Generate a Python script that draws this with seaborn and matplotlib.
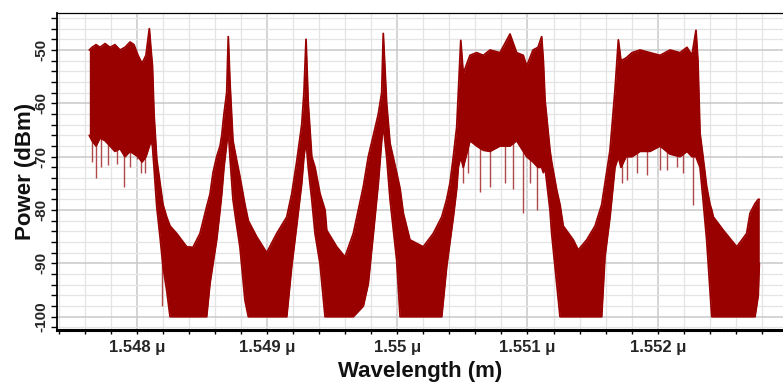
import numpy as np
import pandas as pd
import matplotlib
matplotlib.use("Agg")
import matplotlib.pyplot as plt
from matplotlib.ticker import MultipleLocator, FuncFormatter
import seaborn as sns

# ---- data (wavelength in nm, power in dBm) ----
wavelength_nm = [
    1547.636, 1547.657, 1547.688, 1547.718, 1547.757, 1547.795, 1547.833, 1547.872,
    1547.910, 1547.949, 1547.979, 1548.010, 1548.041, 1548.071, 1548.097, 1548.110,
    1548.121, 1548.133, 1548.154, 1548.179, 1548.202, 1548.230, 1548.256, 1548.307,
    1548.384, 1548.432, 1548.486, 1548.537, 1548.563, 1548.586, 1548.614, 1548.640,
    1548.653, 1548.670, 1548.691, 1548.703, 1548.716, 1548.739, 1548.762, 1548.793,
    1548.831, 1548.857, 1548.921, 1548.998, 1549.075, 1549.152, 1549.190, 1549.228,
    1549.267, 1549.284, 1549.300, 1549.317, 1549.344, 1549.369, 1549.407, 1549.446,
    1549.459, 1549.536, 1549.599, 1549.663, 1549.740, 1549.778, 1549.817, 1549.855,
    1549.881, 1549.893, 1549.919, 1549.945, 1549.996, 1550.022, 1550.047, 1550.098,
    1550.200, 1550.277, 1550.342, 1550.380, 1550.405, 1550.431, 1550.457, 1550.469,
    1550.488, 1550.507, 1550.559, 1550.610, 1550.661, 1550.713, 1550.789, 1550.866,
    1550.917, 1550.968, 1550.994, 1551.043, 1551.081, 1551.109, 1551.122, 1551.135,
    1551.173, 1551.186, 1551.225, 1551.250, 1551.275, 1551.352, 1551.390, 1551.455,
    1551.519, 1551.570, 1551.595, 1551.634, 1551.672, 1551.698, 1551.718, 1551.757,
    1551.803, 1551.864, 1551.941, 1552.018, 1552.094, 1552.171, 1552.225, 1552.263,
    1552.294, 1552.309, 1552.325, 1552.348, 1552.376, 1552.402, 1552.415, 1552.427,
    1552.504, 1552.607, 1552.683, 1552.709, 1552.747, 1552.772, 1552.780,
]
upper_dbm = [
    -50.0, -49.5, -49.0, -49.5, -48.8, -49.5, -49.0, -50.0,
    -49.5, -48.5, -49.0, -51.0, -52.5, -51.0, -46.0, -50.0,
    -53.0, -62.0, -70.5, -75.0, -79.0, -81.3, -83.0, -84.4,
    -86.9, -87.0, -84.4, -79.4, -77.0, -73.0, -70.0, -68.0,
    -66.0, -62.0, -58.0, -47.5, -56.0, -67.0, -70.0, -73.8,
    -79.0, -82.0, -85.0, -88.0, -84.4, -81.3, -77.0, -71.0,
    -64.0, -58.0, -48.0, -60.0, -70.0, -72.0, -76.9, -80.0,
    -83.8, -86.9, -88.8, -84.4, -75.6, -70.0, -66.0, -62.0,
    -58.0, -46.9, -60.0, -67.5, -73.0, -76.0, -80.6, -85.6,
    -86.9, -84.4, -81.3, -78.0, -75.0, -70.0, -64.4, -58.0,
    -48.2, -54.4, -51.0, -50.5, -51.0, -50.0, -50.5, -47.0,
    -50.5, -51.0, -53.0, -50.0, -49.5, -47.5, -52.0, -59.4,
    -68.8, -71.0, -76.3, -79.0, -83.0, -85.6, -87.5, -85.6,
    -83.0, -79.0, -75.0, -68.8, -57.5, -48.1, -52.0, -51.5,
    -50.5, -50.0, -50.5, -51.0, -50.0, -50.5, -49.5, -51.0,
    -46.3, -52.0, -65.6, -70.0, -75.6, -79.0, -80.0, -81.3,
    -83.8, -86.9, -84.4, -80.6, -78.8, -78.0, -78.0,
]
lower_dbm = [
    -66.0, -67.0, -68.0, -66.5, -67.0, -68.0, -69.0, -68.5,
    -70.0, -69.0, -69.5, -70.0, -71.0, -70.0, -68.0, -67.0,
    -68.0, -72.0, -79.4, -85.0, -90.6, -95.0, -100.0, -100.0,
    -100.0, -100.0, -100.0, -100.0, -93.7, -90.0, -85.6, -80.0,
    -77.0, -72.0, -67.5, -65.0, -70.0, -78.0, -82.0, -87.0,
    -96.9, -100.0, -100.0, -100.0, -100.0, -100.0, -90.6, -83.0,
    -75.0, -70.0, -67.0, -72.0, -78.0, -84.4, -90.0, -100.0,
    -100.0, -100.0, -100.0, -100.0, -98.0, -93.8, -84.4, -75.0,
    -67.0, -64.0, -70.0, -78.0, -89.4, -100.0, -100.0, -100.0,
    -100.0, -100.0, -100.0, -90.6, -86.0, -81.3, -76.0, -72.0,
    -70.0, -72.0, -67.0, -68.0, -68.8, -69.0, -68.0, -68.0,
    -67.0, -69.0, -70.0, -71.0, -72.0, -72.0, -73.0, -72.0,
    -80.0, -84.4, -93.8, -100.0, -100.0, -100.0, -100.0, -100.0,
    -100.0, -100.0, -88.8, -81.3, -72.0, -70.0, -72.0, -70.0,
    -70.0, -69.0, -69.0, -68.0, -69.5, -70.0, -69.0, -70.0,
    -70.0, -71.0, -72.0, -78.0, -85.6, -95.0, -100.0, -100.0,
    -100.0, -100.0, -100.0, -100.0, -100.0, -96.0, -90.0,
]

# isolated downward spikes (position, tip value, base value)
spike_nm = [
    1547.657, 1547.685, 1547.726, 1547.780, 1547.846, 1547.902, 1547.949, 1548.000,
    1548.033, 1548.064, 1548.197,
    1550.507, 1550.546, 1550.636, 1550.713, 1550.828, 1550.889, 1550.968, 1551.020,
    1551.073,
    1551.726, 1551.762, 1551.839, 1551.916, 1552.018, 1552.069, 1552.146, 1552.197,
    1552.269,
]
spike_tip_dbm = [
    -71.0, -74.0, -72.0, -71.5, -71.3, -75.6, -72.0, -70.5,
    -73.0, -73.0, -98.0,
    -75.0, -73.0, -76.6, -75.6, -75.0, -76.0, -80.6, -75.0,
    -80.0,
    -75.0, -74.4, -73.0, -73.5, -72.5, -72.5, -72.0, -73.0,
    -79.0,
]
spike_base_dbm = [
    -66.0, -67.0, -66.0, -67.0, -68.0, -68.0, -68.0, -69.0,
    -70.0, -69.0, -88.0,
    -70.0, -67.0, -68.0, -68.0, -68.0, -67.0, -68.0, -70.0,
    -71.0,
    -71.0, -70.0, -69.0, -69.0, -68.0, -69.0, -69.0, -69.0,
    -70.0,
]

x_major_um = [1.548, 1.549, 1.550, 1.551, 1.552]
y_major = [-100, -90, -80, -70, -60, -50]

RED = "#990000"
SPIKE = "#b04848"

sns.set_theme(style="white")
plt.rcParams["font.family"] = ["Liberation Sans", "DejaVu Sans"]
plt.rcParams["font.weight"] = "bold"

fig = plt.figure(figsize=(7.83, 3.86), dpi=100)
ax = fig.add_axes([57 / 783, 1 - 330 / 386, 1 - 57 / 783, (330 - 13) / 386])

df = pd.DataFrame({
    "wl": np.array(wavelength_nm) / 1000.0,
    "up": upper_dbm,
    "lo": lower_dbm,
})
sp = pd.DataFrame({
    "wl": np.array(spike_nm) / 1000.0,
    "tip": spike_tip_dbm,
    "base": spike_base_dbm,
})

ax.fill_between(df["wl"], df["lo"], df["up"], color=RED, lw=0, zorder=3)
sns.lineplot(data=df, x="wl", y="up", ax=ax, color=RED, lw=1.3, zorder=4, estimator=None, sort=False)
sns.lineplot(data=df, x="wl", y="lo", ax=ax, color=RED, lw=1.3, zorder=4, estimator=None, sort=False)
ax.vlines(sp["wl"], sp["tip"], sp["base"], color=SPIKE, lw=1.0, zorder=2.9)

ax.set_xlim(1.547388, 1.552962)
ax.set_ylim(-102.5, -43.06)

ax.xaxis.set_major_locator(MultipleLocator(0.001))
ax.xaxis.set_minor_locator(MultipleLocator(0.0002))
ax.yaxis.set_major_locator(MultipleLocator(10))
ax.yaxis.set_minor_locator(MultipleLocator(2))
ax.set_xticks(x_major_um)
ax.set_yticks(y_major)
ax.xaxis.set_major_formatter(FuncFormatter(lambda v, p: f"{v:g} \u03bc"))
ax.yaxis.set_major_formatter(FuncFormatter(lambda v, p: f"{int(round(v))}"))

ax.grid(which="minor", color="#e4e4e4", lw=0.9, zorder=0)
ax.grid(which="major", color="#c9c9c9", lw=1.1, zorder=0)
ax.set_axisbelow(True)

ax.tick_params(axis="x", which="both", bottom=True, direction="out", length=3,
               width=1.0, color="black", labelsize=12, pad=4)
ax.tick_params(axis="y", which="both", left=True, direction="out", length=4,
               width=1.0, color="black", labelsize=11, pad=2, labelrotation=90)
for lab in ax.get_yticklabels():
    lab.set_va("center")

ax.spines["right"].set_visible(False)
ax.spines["left"].set_visible(True)
ax.spines["left"].set_color("black")
ax.spines["left"].set_linewidth(1.3)
ax.spines["bottom"].set_visible(True)
ax.spines["bottom"].set_color("black")
ax.spines["bottom"].set_linewidth(2.2)
ax.spines["bottom"].set_linestyle((0, (0.6, 0.6)))
ax.spines["top"].set_visible(True)
ax.spines["top"].set_color("black")
ax.spines["top"].set_linewidth(0.9)
ax.spines["top"].set_linestyle((0, (1, 1)))

ax.set_xlabel("Wavelength (m)", fontsize=16, fontweight="bold", color="#111111")
ax.set_ylabel("Power (dBm)", fontsize=16, fontweight="bold", color="#111111")
ax.xaxis.set_label_coords(0.5, -0.097)
ax.yaxis.set_label_coords(-0.029, 0.5)

fig.savefig("out.png", dpi=100)
